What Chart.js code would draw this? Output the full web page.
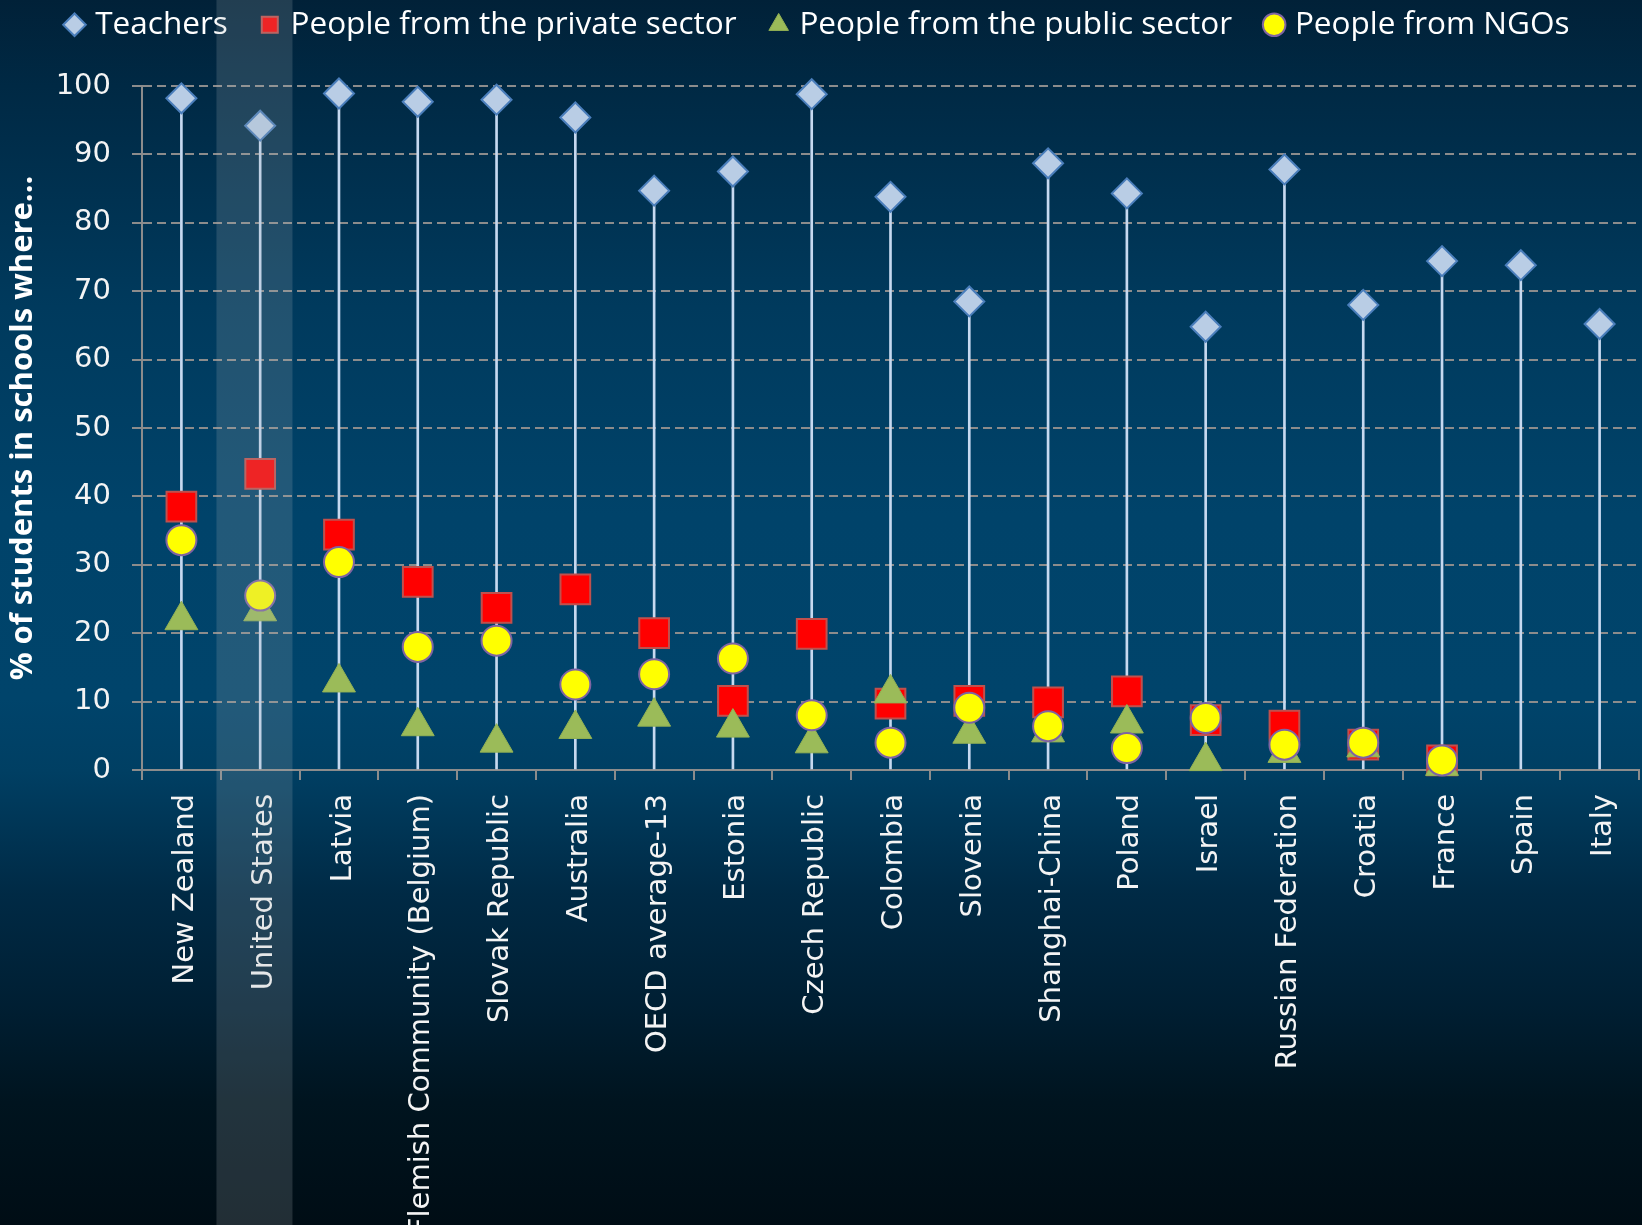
<!DOCTYPE html>
<html lang="en">
<head>
<meta charset="UTF-8">
<title>Who is involved in schools</title>
<script src="https://cdn.jsdelivr.net/npm/chart.js"></script>
<style>
    html, body { margin: 0; overflow: hidden; background: #000d15; }
    #wrap {
        position: relative; width: 1642px; height: 1225px; overflow: hidden;
        background: linear-gradient(to bottom, #012138 0%, #002944 7%, #003a5d 25%, #00436a 42%, #00446b 57%, #003f63 63%, #002a45 73%, #001f33 82%, #00141f 90%, #000d15 100%);
    }
    canvas { display: block; }
</style>
</head>
<body>
<div id="wrap"><canvas id="chart"></canvas></div>

<script>
const countries = [
    "New Zealand", "United States", "Latvia", "Flemish Community (Belgium)", "Slovak Republic",
    "Australia", "OECD average-13", "Estonia", "Czech Republic", "Colombia", "Slovenia",
    "Shanghai-China", "Poland", "Israel", "Russian Federation", "Croatia", "France", "Spain", "Italy"
];
const teachers      = [98.2, 94.2, 98.9, 97.7, 98.0, 95.4, 84.7, 87.5, 98.8, 83.8, 68.5, 88.7, 84.3, 64.8, 87.8, 68.0, 74.4, 73.8, 65.2];
const privateSector = [38.5, 43.3, 34.4, 27.5, 23.7, 26.4, 20.0, 10.1, 19.9, 9.7, 10.1, 9.9, 11.5, 7.3, 6.5, 3.7, 1.4, null, null];
const publicSector  = [21.9, 23.2, 12.8, 6.4, 4.0, 6.0, 7.8, 6.2, 3.9, 11.2, 5.3, 5.5, 6.8, 1.3, 2.5, 3.3, 0.6, null, null];
const ngos          = [33.6, 25.5, 30.4, 18.0, 18.9, 12.5, 14.0, 16.3, 8.0, 4.0, 9.1, 6.4, 3.2, 7.6, 3.7, 4.0, 1.4, null, null];
const highlighted = "United States";

// semi-transparent band over the highlighted country, drawn on top like the original
const highlightBand = {
    id: 'highlightBand',
    afterDraw(chart) {
        const x = chart.scales.x;
        const w = x.width / countries.length;
        const cx = x.getPixelForValue(countries.indexOf(highlighted));
        const c = chart.ctx;
        c.save();
        c.fillStyle = 'rgba(168,178,186,0.2)';
        c.fillRect(cx - 0.555 * w, 0, 0.965 * w, chart.height);
        c.restore();
    }
};

// keep the legend high up but leave room above the plot
const legendSpace = {
    id: 'legendSpace',
    beforeLayout(chart) {
        const lg = chart.legend;
        if (lg && !lg._spaced) {
            const fit = lg.fit;
            lg.fit = function () { fit.call(this); this.height = 114; };
            lg._spaced = true;
        }
    }
};

new Chart(document.getElementById('chart'), {
    type: 'bar',
    data: {
        labels: countries,
        datasets: [
            {
                type: 'bar',
                label: 'stem',
                data: teachers.map(v => [0, v]),
                backgroundColor: '#c6d9f0',
                barThickness: 2,
                order: 5
            },
            {
                type: 'line',
                label: 'Teachers',
                data: teachers,
                showLine: false,
                clip: false,
                pointStyle: 'rectRot',
                pointRadius: 15,
                pointBackgroundColor: '#b9cde5',
                pointBorderColor: '#4a7ebb',
                pointBorderWidth: 2,
                order: 4
            },
            {
                type: 'line',
                label: 'People from the private sector',
                data: privateSector,
                showLine: false,
                clip: false,
                pointStyle: 'rect',
                pointRadius: 21,
                pointBackgroundColor: '#ff0000',
                pointBorderColor: '#c0504d',
                pointBorderWidth: 2,
                order: 3
            },
            {
                type: 'line',
                label: 'People from the public sector',
                data: publicSector,
                showLine: false,
                clip: false,
                pointStyle: 'triangle',
                pointRadius: 19,
                pointBackgroundColor: '#9bbb59',
                pointBorderColor: '#93b254',
                pointBorderWidth: 1,
                order: 2
            },
            {
                type: 'line',
                label: 'People from NGOs',
                data: ngos,
                showLine: false,
                clip: false,
                pointStyle: 'circle',
                pointRadius: 15,
                pointBackgroundColor: '#ffff00',
                pointBorderColor: '#7f64a2',
                pointBorderWidth: 2,
                order: 1
            }
        ]
    },
    options: {
        responsive: true,
        maintainAspectRatio: false,
        animation: false,
        events: [],
        layout: { autoPadding: false, padding: { top: -28, right: 3, bottom: 0, left: 0 } },
        plugins: {
            tooltip: { enabled: false },
            legend: {
                position: 'top',
                labels: {
                    usePointStyle: true,
                    boxWidth: 10,
                    boxHeight: 16,
                    padding: 37,
                    color: '#ffffff',
                    font: { family: 'Open Sans', size: 31.5 },
                    filter: item => item.datasetIndex !== 0,
                    sort: (a, b) => a.datasetIndex - b.datasetIndex
                }
            }
        },
        scales: {
            x: {
                offset: true,
                grid: {
                    offset: true,
                    drawOnChartArea: false,
                    drawTicks: true,
                    tickLength: 10,
                    color: '#8c8c8c',
                    lineWidth: 2
                },
                border: { color: '#8c8c8c', width: 2 },
                ticks: {
                    color: '#f4f4f4',
                    font: { family: 'DejaVu Sans', size: 29 },
                    minRotation: 90,
                    maxRotation: 90,
                    autoSkip: false,
                    padding: 14,
                    labelOffset: 4
                },
                afterFit(scale) {
                    scale.height = 455;
                    scale.paddingLeft = 0;
                    scale.paddingRight = 0;
                }
            },
            y: {
                min: 0,
                max: 100,
                ticks: {
                    stepSize: 10,
                    color: '#f4f4f4',
                    font: { family: 'DejaVu Sans', size: 29 },
                    padding: 21
                },
                grid: { color: '#8c8c8c', lineWidth: 2, tickLength: 10 },
                border: { color: '#8c8c8c', width: 2, dash: [9, 5] },
                title: {
                    display: true,
                    text: '% of students in schools where...',
                    color: '#ffffff',
                    font: { family: 'Open Sans', size: 31, weight: 'bold' },
                    padding: { top: 5, bottom: 0 }
                },
                afterFit(scale) { scale.width = 142; }
            }
        }
    },
    plugins: [highlightBand, legendSpace]
});
</script>
</body>
</html>
